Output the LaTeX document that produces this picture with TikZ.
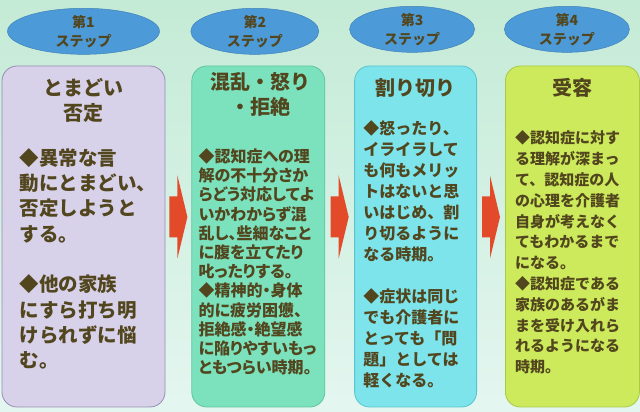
\documentclass[tikz,border=0pt]{standalone}
\usepackage{fontspec}
\newfontfamily\jp{Noto Sans CJK JP}
\newfontfamily\jpp{Noto Sans CJK JP}[RawFeature=+palt]
\usetikzlibrary{positioning,shapes.geometric,calc}

\definecolor{bgtop}{RGB}{196,235,214}
\definecolor{bgbottom}{RGB}{228,246,240}
\definecolor{badgeblue}{RGB}{76,154,216}
\definecolor{lilac}{RGB}{216,209,234}
\definecolor{lilacline}{RGB}{150,140,180}
\definecolor{mint}{RGB}{124,226,190}
\definecolor{mintline}{RGB}{96,196,160}
\definecolor{aqua}{RGB}{124,228,234}
\definecolor{aqualine}{RGB}{90,196,206}
\definecolor{leaf}{RGB}{204,234,92}
\definecolor{leafline}{RGB}{170,200,70}
\definecolor{arrowred}{RGB}{226,74,42}
\definecolor{ink}{RGB}{82,70,30}

\begin{document}
\begin{tikzpicture}[x=1pt,y=1pt,
    stage node/.style={draw,rounded corners=15pt,minimum height=341pt,inner sep=0pt,line width=0.8pt},
    badge node/.style={ellipse,fill=badgeblue,draw=badgeblue!85!black,line width=0.5pt,minimum height=45pt,
        inner sep=0pt,align=center,text=ink,font=\jp\bfseries\fontsize{14}{19}\selectfont},
    title node/.style={anchor=north,align=center,inner sep=0pt,text=ink,font=\jp\bfseries\fontsize{20}{25}\selectfont},
    body node/.style={anchor=north west,align=left,inner sep=0pt,text=ink},
    blockarrow/.pic={\fill[arrowred] (-9pt,20.5pt) -- (-1pt,20.5pt) -- (-1pt,41.5pt) -- (9pt,0pt)
        -- (-1pt,-41.5pt) -- (-1pt,-20.5pt) -- (-9pt,-20.5pt) -- cycle;}]

    \useasboundingbox (0,0) rectangle (640,412);
    \shade[top color=bgtop,bottom color=bgbottom] (0,0) rectangle (640,412);

    % Define stages
    \node[stage node,fill=lilac,draw=lilacline,minimum width=163pt] (b1) at (83.5,175.5) {};
    \node[stage node,fill=mint,draw=mintline,minimum width=133pt] (b2) [right=26pt of b1] {};
    \node[stage node,fill=aqua,draw=aqualine,minimum width=122pt] (b3) [right=29pt of b2] {};
    \node[stage node,fill=leaf,draw=leafline,minimum width=134pt] (b4) [right=28pt of b3] {};

    % Step badges
    \node[badge node,minimum width=152pt] (s1) [above=11pt of b1] {第1\\ステップ};
    \node[badge node,minimum width=128pt,xshift=-3.5pt] (s2) [above=11pt of b2] {第2\\ステップ};
    \node[badge node,minimum width=125pt,xshift=-3.5pt] (s3) [above=13pt of b3] {第3\\ステップ};
    \node[badge node,minimum width=125pt,xshift=-5.5pt] (s4) [above=13pt of b4] {第4\\ステップ};

    % Titles
    \node[title node] (t1) at ([yshift=-13pt]b1.north) {とまどい\\否定};
    \node[title node] (t2) at ([xshift=2pt,yshift=-7pt]b2.north) {混乱・怒り\\・拒絶};
    \node[title node] (t3) at ([yshift=-13pt]b3.north) {割り切り};
    \node[title node] (t4) at ([yshift=-12pt]b4.north) {受容};

    % Texts
    \node[body node,font=\jp\bfseries\fontsize{19.5}{25.3}\selectfont] (x1) at ([xshift=18pt,yshift=-82.5pt]b1.north west)
        {◆異常な言\\動にとまどい、\\否定しようと\\する。\\[25.3pt]◆他の家族\\にすら打ち明\\けられずに悩\\む。};
    \node[body node,font=\jpp\bfseries\fontsize{16}{19.2}\selectfont] (x2) at ([xshift=7pt,yshift=-82.8pt]b2.north west)
        {◆認知症への理\\解の不十分さか\\らどう対応してよ\\いかわからず混\\乱し、些細なこと\\に腹を立てたり\\叱ったりする。\\
         ◆精神的・身体\\的に疲労困憊、\\拒絶感・絶望感\\に陥りやすいもっ\\ともつらい時期。};
    \node[body node,font=\jp\bfseries\fontsize{16}{21}\selectfont] (x3) at ([xshift=9pt,yshift=-54.6pt]b3.north west)
        {◆怒ったり、\\イライラして\\も何もメリッ\\トはないと思\\いはじめ、割\\り切るように\\なる時期。\\[21pt]
         ◆症状は同じ\\でも介護者に\\とっても「問\\題」としては\\軽くなる。};
    \node[body node,font=\jp\bfseries\fontsize{15}{20.8}\selectfont] (x4) at ([xshift=10pt,yshift=-65pt]b4.north west)
        {◆認知症に対す\\る理解が深まっ\\て、認知症の人\\の心理を介護者\\自身が考えなく\\てもわかるまで\\になる。\\
         ◆認知症である\\家族のあるがま\\まを受け入れら\\れるようになる\\時期。};

    % Arrows between stages
    \pic at ($(b1.east)!.5!(b2.west)+(0,19.5)$) {blockarrow};
    \pic at ($(b2.east)!.5!(b3.west)+(0,19.5)$) {blockarrow};
    \pic at ($(b3.east)!.5!(b4.west)+(0,19.5)$) {blockarrow};

\end{tikzpicture}
\end{document}
